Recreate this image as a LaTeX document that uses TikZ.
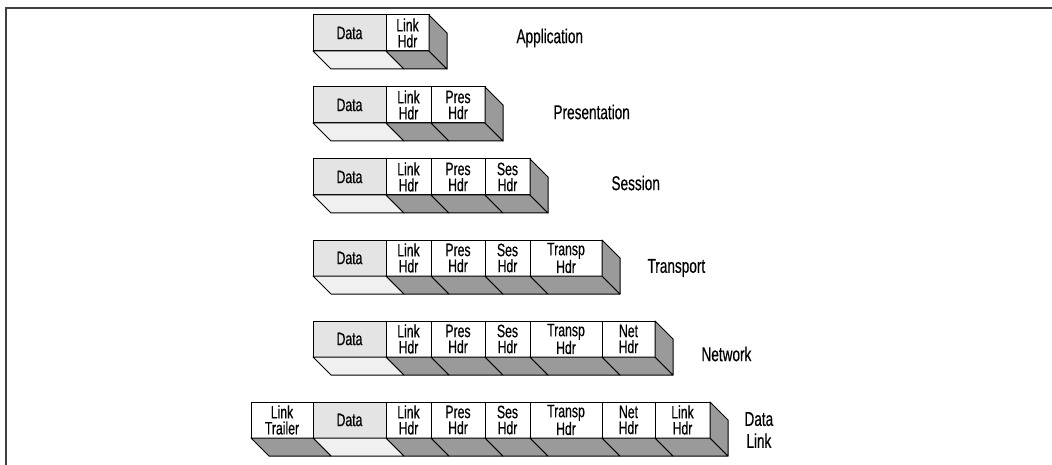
\documentclass[tikz,border=0pt]{standalone}
\usepackage{fontspec}
\setmainfont{Liberation Sans}[FakeStretch=0.68,FakeBold=0.4]
\usepackage{tikz}
\usetikzlibrary{positioning,calc}

\definecolor{datagray}{HTML}{E4E4E4}
\definecolor{datafloor}{HTML}{F0F0F0}
\definecolor{hdrgray}{HTML}{9A9A9A}

\begin{document}
\begin{tikzpicture}[x=1pt,y=-1pt,line width=1pt]
      \tikzstyle{cell} = [draw,fill=white,minimum height=36pt,inner sep=0pt,outer sep=0pt,align=center,font=\fontsize{18}{16}\selectfont]
      \tikzstyle{data} = [cell,fill=datagray,minimum width=73pt]
      \tikzstyle{floor} = [draw,fill=hdrgray,line join=round]
      \tikzstyle{datafl} = [draw,fill=datafloor,line join=round]
      \tikzstyle{layer} = [anchor=west,align=center,inner sep=0pt,font=\fontsize{20}{22}\selectfont]
      \useasboundingbox (0,0) rectangle (1052,465);
      % Frame.
      \draw[line width=2pt,black!75] (6,465) -- (6,7.7) -- (1052,7.7);
      %
      % Application.
      \node[data,anchor=north west] (D11) at (313,15) {Data};
      \node[cell,minimum width=43pt,right=0pt of D11] (L12) {Link\\Hdr};
      \node[layer] (app) at (516,38) {Application};

      % Presentation.
      \node[data,anchor=north west] (D21) at (313,87) {Data};
      \node[cell,minimum width=45pt,right=0pt of D21] (L22) {Link\\Hdr};
      \node[cell,minimum width=54pt,right=0pt of L22] (P23) {Pres\\Hdr};
      \node[layer] (pres) at (553,112) {Presentation};

      % Session.
      \node[data,anchor=north west] (D31) at (313,159) {Data};
      \node[cell,minimum width=45pt,right=0pt of D31] (L32) {Link\\Hdr};
      \node[cell,minimum width=54pt,right=0pt of L32] (P33) {Pres\\Hdr};
      \node[cell,minimum width=45pt,right=0pt of P33] (S34) {Ses\\Hdr};
      \node[layer] (ses) at (611,183) {Session};

      % Transport.
      \node[data,anchor=north west] (D41) at (313,240) {Data};
      \node[cell,minimum width=45pt,right=0pt of D41] (L42) {Link\\Hdr};
      \node[cell,minimum width=54pt,right=0pt of L42] (P43) {Pres\\Hdr};
      \node[cell,minimum width=45pt,right=0pt of P43] (S44) {Ses\\Hdr};
      \node[cell,minimum width=72pt,right=0pt of S44] (T45) {Transp\\Hdr};
      \node[layer] (transp) at (647,268) {Transport};

      % Network.
      \node[data,anchor=north west] (D51) at (313,321) {Data};
      \node[cell,minimum width=45pt,right=0pt of D51] (L52) {Link\\Hdr};
      \node[cell,minimum width=54pt,right=0pt of L52] (P53) {Pres\\Hdr};
      \node[cell,minimum width=45pt,right=0pt of P53] (S54) {Ses\\Hdr};
      \node[cell,minimum width=72pt,right=0pt of S54] (T55) {Transp\\Hdr};
      \node[cell,minimum width=53pt,right=0pt of T55] (N56) {Net\\Hdr};
      \node[layer] (net) at (701,354) {Network};

      % Data link.
      \node[cell,minimum width=62pt,anchor=north west] (LT61) at (251,402) {Link\\Trailer};
      \node[data,right=0pt of LT61] (D62) {Data};
      \node[cell,minimum width=45pt,right=0pt of D62] (L63) {Link\\Hdr};
      \node[cell,minimum width=54pt,right=0pt of L63] (P64) {Pres\\Hdr};
      \node[cell,minimum width=45pt,right=0pt of P64] (S65) {Ses\\Hdr};
      \node[cell,minimum width=72pt,right=0pt of S65] (T66) {Transp\\Hdr};
      \node[cell,minimum width=53pt,right=0pt of T66] (N67) {Net\\Hdr};
      \node[cell,minimum width=55pt,right=0pt of N67] (L68) {Link\\Hdr};
      \node[layer] (dlink) at (744,430) {Data\\Link};

      % Floors under the cells.
      \foreach \c in {D11,D21,D31,D41,D51,D62}
          \draw[datafl] (\c.south west) -- (\c.south east) -- ++(18,18) -- ($(\c.south west)+(18,18)$) -- cycle;
      \foreach \c in {L12,L22,P23,L32,P33,S34,L42,P43,S44,T45,L52,P53,S54,T55,N56,LT61,L63,P64,S65,T66,N67,L68}
          \draw[floor] (\c.south west) -- (\c.south east) -- ++(18,18) -- ($(\c.south west)+(18,18)$) -- cycle;
      % Right end faces.
      \foreach \c in {L12,P23,S34,T45,N56,L68}
          \draw[floor] (\c.north east) -- ++(18,18) -- ++(0,36) -- ++(-18,-18) -- cycle;
      %
\end{tikzpicture}
\end{document}
